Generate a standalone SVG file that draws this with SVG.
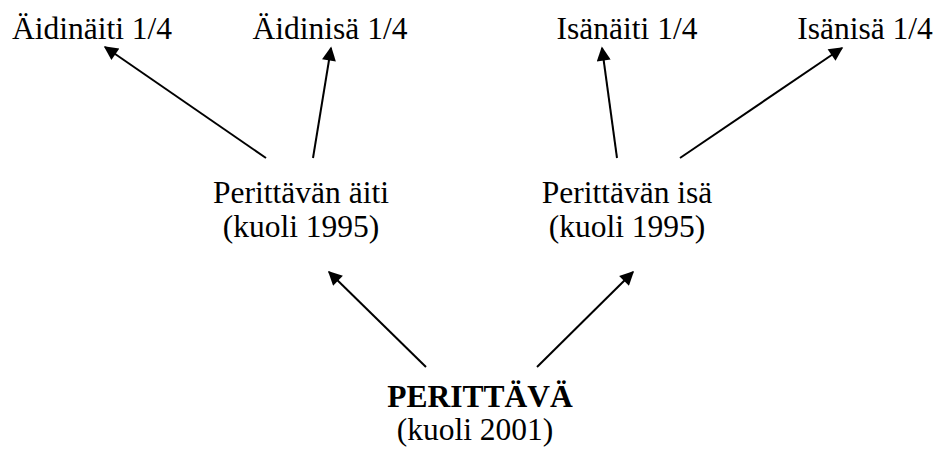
<svg xmlns="http://www.w3.org/2000/svg" width="940" height="450" viewBox="0 0 940 450">
<defs>
<style>
text{font-family:"Liberation Serif","Tinos","DejaVu Serif",serif;font-size:31.5px;font-weight:400;font-style:normal;fill:#000;text-anchor:middle}
text.b{font-weight:700}
.c line{stroke:#000;stroke-width:2;marker-end:url(#ah)}
</style>
<marker id="ah" viewBox="0 0 10 10" refX="9" refY="5" markerUnits="userSpaceOnUse" markerWidth="16" markerHeight="14" orient="auto">
<path d="M0,0 L10,5 L0,10 z" fill="#000"/>
</marker>
</defs>
<rect width="940" height="450" fill="#fff"/>
<g id="aidinaiti"><text x="92" y="39">Äidinäiti 1/4</text></g>
<g id="aidinisa"><text x="330" y="39">Äidinisä 1/4</text></g>
<g id="isanaiti"><text x="627" y="39">Isänäiti 1/4</text></g>
<g id="isanisa"><text x="865" y="39">Isänisä 1/4</text></g>
<g id="aiti"><text x="301" y="203">Perittävän äiti</text><text x="301" y="237">(kuoli 1995)</text></g>
<g id="isa"><text x="627" y="203">Perittävän isä</text><text x="627" y="237">(kuoli 1995)</text></g>
<g id="perittava"><text class="b" x="480" y="407">PERITTÄVÄ</text><text x="475" y="440">(kuoli 2001)</text></g>
<g class="c" id="connectors">
<line x1="266" y1="158" x2="105" y2="47"/>
<line x1="313" y1="158" x2="331" y2="48"/>
<line x1="617" y1="158" x2="602" y2="48"/>
<line x1="680" y1="158" x2="842" y2="48"/>
<line x1="426" y1="367" x2="329" y2="272"/>
<line x1="537" y1="367" x2="633" y2="272"/>
</g>
</svg>
